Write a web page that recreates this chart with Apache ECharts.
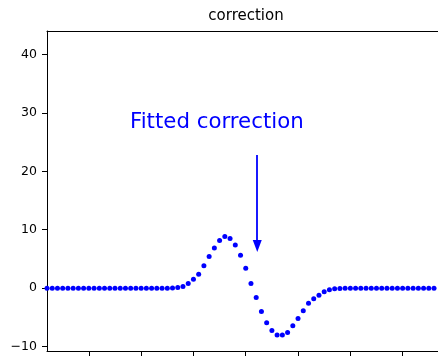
<!DOCTYPE html>
<html>
<head>
<meta charset="utf-8">
<script src="https://cdn.jsdelivr.net/npm/echarts@6/dist/echarts.min.js"></script>
<style>
  html, body { margin: 0; padding: 0; background: #ffffff; }
  #chart { width: 438px; height: 356px; }
</style>
</head>
<body>
<div id="chart"></div>
<script>
// Sample positions along the x axis
const sampleX = [
   2,  3,  4,  5,  6,  7,  8,  9, 10, 11, 12, 13, 14, 15, 16, 17, 18, 19, 20,
  21, 22, 23, 24, 25, 26, 27, 28, 29, 30, 31, 32, 33, 34, 35, 36, 37, 38, 39,
  40, 41, 42, 43, 44, 45, 46, 47, 48, 49, 50, 51, 52, 53, 54, 55, 56, 57, 58,
  59, 60, 61, 62, 63, 64, 65, 66, 67, 68, 69, 70, 71, 72, 73, 74, 75, 76, 77
];

// Fitted correction at each sample
const correction = [
  0, 0, 0, 0, 0, 0, 0, 0, 0, 0, 0, 0, 0, 0, 0, 0, 0, 0, 0, 0, 0, 0, 0, 0, 0.03,
  0.12, 0.3, 0.8, 1.52, 2.4, 3.82, 5.4, 6.86, 8.17, 8.85, 8.5, 7.38, 5.63, 3.42,
  0.78, -1.6, -4.0, -5.93, -7.25, -8.03, -8.03, -7.59, -6.44, -5.17, -3.88,
  -2.58, -1.83, -1.2, -0.63, -0.29, -0.12, -0.05,
  0, 0, 0, 0, 0, 0, 0, 0, 0, 0, 0, 0, 0, 0, 0, 0, 0, 0, 0
];

// Axis ticks
const xTicks = [10, 20, 30, 40, 50, 60, 70];
const yTicks = [-10, 0, 10, 20, 30, 40];

// Annotation
const titleText = 'correction';
const noteText = 'Fitted correction';
const notePos = [17.87, 28.4];
const arrowStart = [42.2, 22.8];
const arrowEnd = [42.2, 7.2];

const X_MIN = 2, X_MAX = 76.76;
const Y_MIN = -10.75, Y_MAX = 44.0;
const BLUE = '#0000ff';
const FONT = 'DejaVu Sans';

const chart = echarts.init(document.getElementById('chart'), null, { renderer: 'canvas' });

const points = sampleX.map((x, i) => [x, correction[i]]);

chart.setOption({
  animation: false,
  backgroundColor: '#ffffff',
  grid: { left: 47, top: 31, right: 0, bottom: 5, containLabel: false },
  graphic: [{
    type: 'text',
    x: 246, y: 16.5,
    style: {
      text: titleText, fill: '#000', font: '15px "' + FONT + '"',
      textAlign: 'center', textVerticalAlign: 'middle'
    }
  }],
  xAxis: [{
    type: 'value', position: 'bottom', min: X_MIN, max: X_MAX,
    axisLine: { show: true, onZero: false, lineStyle: { color: '#000', width: 1 } },
    axisTick: { show: true, customValues: xTicks, length: 5, lineStyle: { color: '#000' } },
    axisLabel: { show: false },
    splitLine: { show: false }
  }, {
    type: 'value', position: 'top', min: X_MIN, max: X_MAX,
    axisLine: { show: true, onZero: false, lineStyle: { color: '#000', width: 1 } },
    axisTick: { show: false },
    axisLabel: { show: false },
    splitLine: { show: false }
  }],
  yAxis: {
    type: 'value', min: Y_MIN, max: Y_MAX,
    axisLine: { show: true, onZero: false, lineStyle: { color: '#000', width: 1 } },
    axisTick: { show: true, customValues: yTicks, length: 5, lineStyle: { color: '#000' } },
    axisLabel: {
      customValues: yTicks, margin: 10, fontSize: 12.5, color: '#000', fontFamily: FONT,
      formatter: v => (v < 0 ? '\u2212' + Math.abs(v) : String(v))
    },
    splitLine: { show: false }
  },
  series: [{
    type: 'scatter',
    data: points,
    symbol: 'circle',
    symbolSize: 5,
    itemStyle: { color: BLUE, opacity: 1 },
    clip: true,
    markLine: {
      silent: true,
      symbol: ['none', 'triangle'],
      symbolSize: [9, 12],
      lineStyle: { color: BLUE, width: 1.8, type: 'solid' },
      label: { show: false },
      data: [[{ coord: arrowStart }, { coord: arrowEnd }]]
    },
    markPoint: {
      silent: true,
      symbol: 'circle',
      symbolSize: 0,
      label: {
        show: true, position: 'right', distance: 0,
        formatter: noteText, fontSize: 21.3, color: BLUE, fontFamily: FONT
      },
      data: [{ coord: notePos }]
    }
  }]
});
</script>
</body>
</html>
